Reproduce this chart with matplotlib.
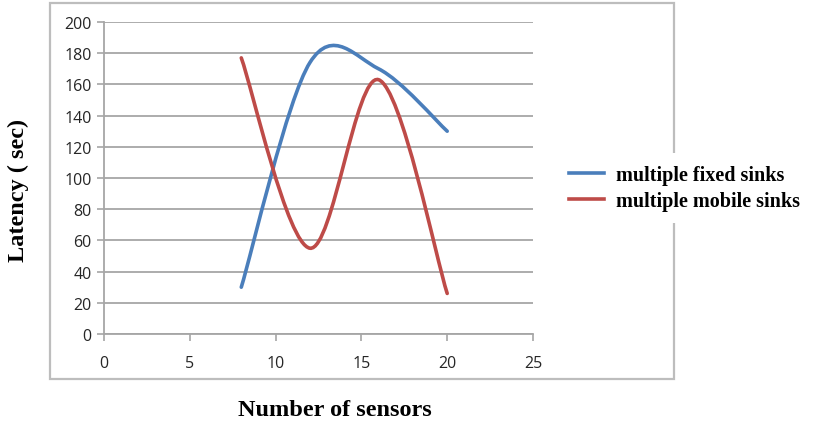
import numpy as np
import matplotlib
matplotlib.use("Agg")
import matplotlib.pyplot as plt
from matplotlib.path import Path
from matplotlib.patches import PathPatch, Rectangle
from matplotlib.lines import Line2D

# sensor counts and measured latency (sec)
sensors = [8, 12, 16, 20]
fixed_sinks = [30, 174, 170, 130]
mobile_sinks = [177, 55, 163, 26]

x_ticks = [0, 5, 10, 15, 20, 25]
y_ticks = [0, 20, 40, 60, 80, 100, 120, 140, 160, 180, 200]

BLUE = "#4a7ebb"
RED = "#be4b48"
GRID = "#a6a6a6"


def smooth_path(xs, ys):
    # Catmull-Rom style Bezier segments through every point (spreadsheet "smoothed line")
    pts = np.column_stack([xs, ys]).astype(float)
    verts = [pts[0]]
    codes = [Path.MOVETO]
    n = len(pts)
    for i in range(n - 1):
        p0 = pts[i - 1] if i > 0 else pts[i]
        p1 = pts[i]
        p2 = pts[i + 1]
        p3 = pts[i + 2] if i + 2 < n else pts[i + 1]
        c1 = p1 + (p2 - p0) / 6.0
        c2 = p2 - (p3 - p1) / 6.0
        verts += [c1, c2, p2]
        codes += [Path.CURVE4] * 3
    return Path(verts, codes)


fig = plt.figure(figsize=(8.13, 4.27), dpi=100)
ax = fig.add_axes([104 / 813, 1 - 335 / 427, 429 / 813, 312 / 427])

# outer chart frame
fig.patches.append(
    Rectangle((50 / 813, 1 - 380 / 427), 624 / 813, 376 / 427,
              transform=fig.transFigure, fill=False,
              edgecolor="#bdbdbd", linewidth=1.6, zorder=0)
)

for xs, ys, col in [(sensors, fixed_sinks, BLUE), (sensors, mobile_sinks, RED)]:
    ax.add_patch(PathPatch(smooth_path(xs, ys), facecolor="none",
                           edgecolor=col, linewidth=2.6, capstyle="round",
                           zorder=3))

ax.set_xlim(0, 25)
ax.set_ylim(0, 200)
ax.set_xticks(x_ticks)
ax.set_yticks(y_ticks)
ax.yaxis.grid(True, color=GRID, linewidth=1.3)
ax.set_axisbelow(True)

for side in ["top", "right"]:
    ax.spines[side].set_visible(False)
for side in ["left", "bottom"]:
    ax.spines[side].set_color(GRID)
    ax.spines[side].set_linewidth(1.3)

ax.tick_params(axis="both", direction="out", color=GRID, width=1.2,
               length=5, labelsize=11.5, labelcolor="#262626",
               pad=4)
ax.tick_params(axis="x", pad=10)
for lab in ax.get_xticklabels() + ax.get_yticklabels():
    lab.set_fontfamily("Open Sans")

serif = {"family": "Liberation Serif", "weight": "bold", "size": 17.5}
fig.text(335 / 813, 1 - 411 / 427, "Number of sensors", ha="center",
         va="center", fontdict=serif)
fig.text(18 / 813, 1 - 190 / 427, "Latency ( sec)", ha="center",
         va="center", rotation=90, fontdict=serif)

handles = [Line2D([], [], color=BLUE, linewidth=2.6),
           Line2D([], [], color=RED, linewidth=2.6)]
fig.legend(handles, ["multiple fixed sinks", "multiple mobile sinks"],
           loc="center left", bbox_to_anchor=(547 / 813, 1 - 189 / 427),
           frameon=True, facecolor="white", edgecolor="none", framealpha=1,
           prop={"family": "Liberation Serif", "weight": "bold", "size": 14.5},
           handlelength=1.75, handletextpad=0.6, labelspacing=0.33,
           borderpad=0.6)

fig.savefig("out.png", dpi=100)
